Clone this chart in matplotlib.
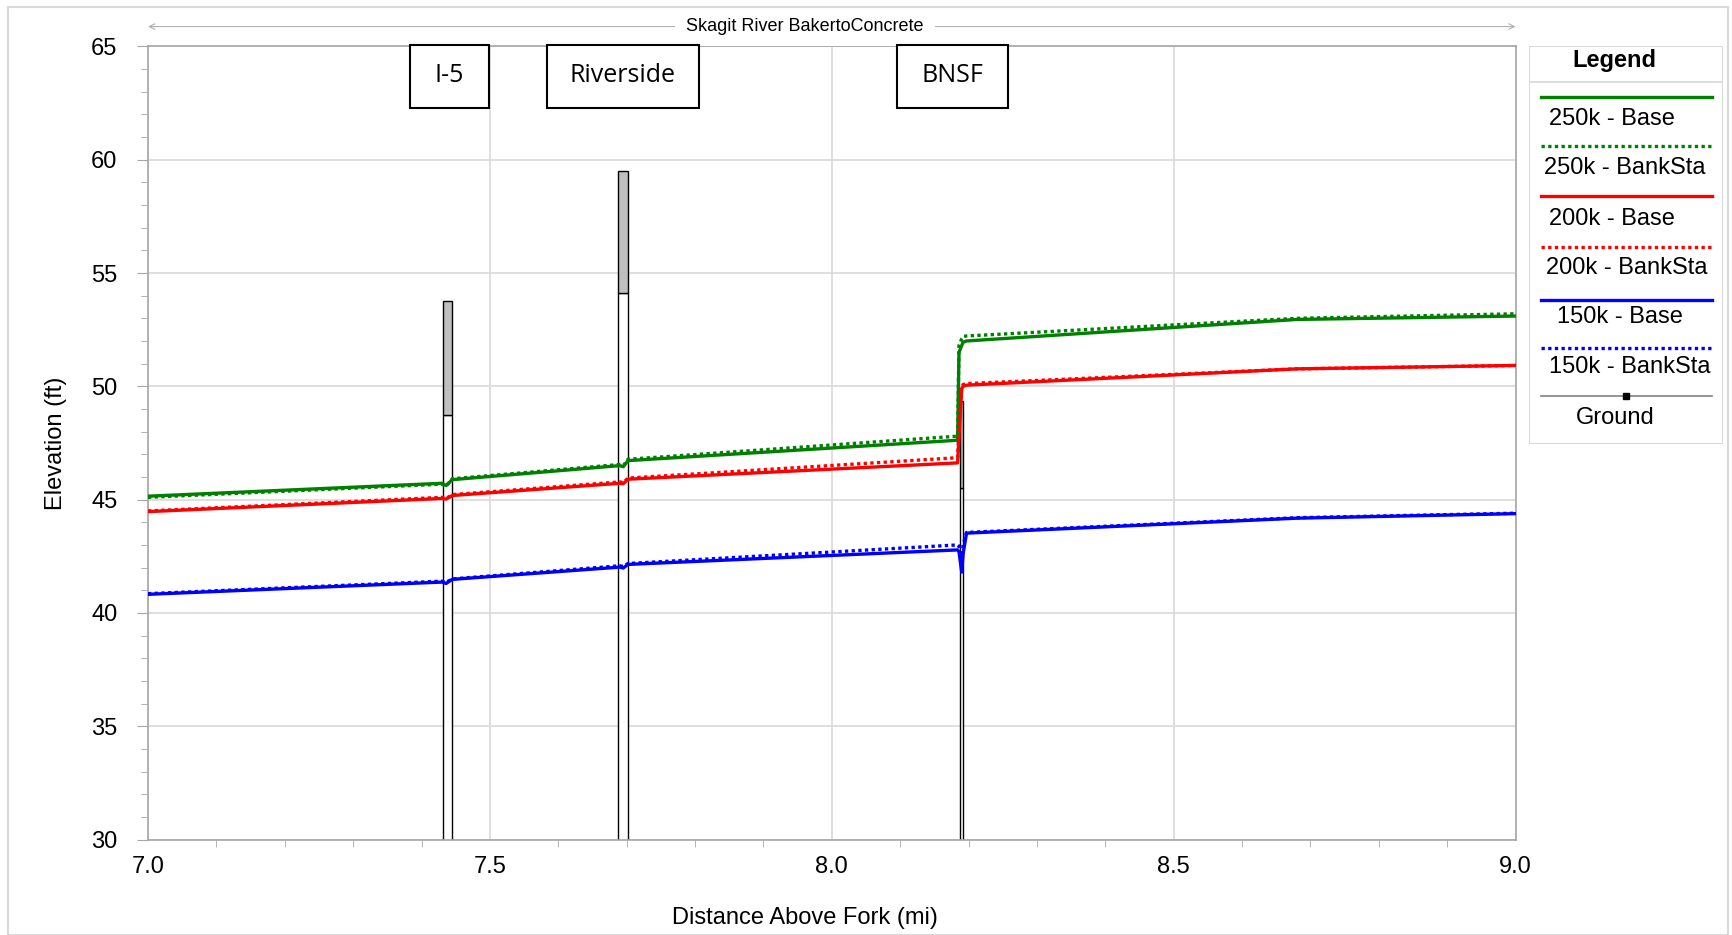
import numpy as np
import matplotlib
matplotlib.use("Agg")
import matplotlib.pyplot as plt
from matplotlib.patches import Rectangle

plt.rcParams['font.family'] = ['Liberation Sans', 'DejaVu Sans']

GRID_COLOR = "#d9d9d9"
SPINE_COLOR = "#a6a6a6"

# river stations (mi) where the profiles change slope
stations = [7.0, 7.43, 7.436, 7.445, 7.69, 7.695, 7.702, 8.184, 8.186, 8.19, 8.192, 8.197, 8.68, 9.0]

wse_250k_base = [45.15, 45.72, 45.62, 45.88, 46.50, 46.45, 46.72, 47.62, 51.5, 51.8, 51.95, 52.0, 52.95, 53.1]
wse_250k_bank = [45.10, 45.68, 45.60, 45.92, 46.55, 46.50, 46.78, 47.80, 51.8, 52.1, 52.2, 52.22, 53.0, 53.2]
wse_200k_base = [44.47, 45.05, 45.02, 45.18, 45.72, 45.70, 45.90, 46.62, 47.8, 49.9, 50.0, 50.05, 50.77, 50.92]
wse_200k_bank = [44.50, 45.10, 45.05, 45.22, 45.78, 45.75, 45.95, 46.85, 48.2, 50.0, 50.08, 50.12, 50.77, 50.92]
wse_150k_base = [40.82, 41.36, 41.30, 41.48, 42.02, 41.98, 42.14, 42.78, 42.7, 41.8, 42.6, 43.52, 44.18, 44.38]
wse_150k_bank = [40.85, 41.40, 41.35, 41.50, 42.08, 42.05, 42.18, 43.00, 42.95, 42.2, 43.0, 43.55, 44.2, 44.4]

series_labels = ["250k - Base", "250k - BankSta", "200k - Base", "200k - BankSta",
                 "150k - Base", "150k - BankSta"]
series_values = [wse_250k_base, wse_250k_bank, wse_200k_base, wse_200k_bank,
                 wse_150k_base, wse_150k_bank]
series_colors = ["#008000", "#008000", "#ff0000", "#ff0000", "#0000ff", "#0000ff"]
series_dotted = [False, True, False, True, False, True]

# bridges: name, upstream/downstream station, high chord, low chord
bridge_names = ["I-5", "Riverside", "BNSF"]
bridge_left = [7.432, 7.688, 8.187]
bridge_right = [7.444, 7.702, 8.192]
bridge_high = [53.76, 59.5, 49.36]
bridge_low = [48.75, 54.1, 45.5]

river_reach = "Skagit River BakertoConcrete"

fig = plt.figure(figsize=(17.32, 9.35), dpi=100)

# outer frame
fig.add_artist(Rectangle((8 / 1732, 0.0), 1720 / 1732, 1 - 7 / 935, transform=fig.transFigure,
                         fill=False, edgecolor="#d9d9d9", lw=1.5))

ax = fig.add_axes([148 / 1732, 95.5 / 935, 1367.6 / 1732, 793.1 / 935])

for i in range(len(bridge_names)):
    w = bridge_right[i] - bridge_left[i]
    ax.add_patch(Rectangle((bridge_left[i], 25), w, bridge_low[i] - 25,
                           facecolor="white", edgecolor="black", lw=1.0, zorder=2))
    ax.add_patch(Rectangle((bridge_left[i], bridge_low[i]), w, bridge_high[i] - bridge_low[i],
                           facecolor="#bfbfbf", edgecolor="black", lw=1.0, zorder=2))

for vals, lab, col, dotted in zip(series_values, series_labels, series_colors, series_dotted):
    if dotted:
        ax.plot(stations, vals, color=col, lw=2.4, ls=(0, (1, 1)), label=lab, zorder=4)
    else:
        ax.plot(stations, vals, color=col, lw=2.4, label=lab, zorder=3)

ax.set_xlim(7.0, 9.0)
ax.set_ylim(30, 65)
ax.set_xticks(np.arange(7.0, 9.01, 0.5))
ax.set_xticklabels(["7.0", "7.5", "8.0", "8.5", "9.0"])
ax.set_xticks(np.arange(7.0, 9.01, 0.1), minor=True)
ax.set_yticks(np.arange(30, 66, 5))
ax.set_yticks(np.arange(30, 66, 1), minor=True)
ax.grid(True, which="major", color=GRID_COLOR, lw=1.2, zorder=0)
ax.set_axisbelow(True)
for s in ax.spines.values():
    s.set_color(SPINE_COLOR)
    s.set_linewidth(1.2)
ax.tick_params(axis="both", which="both", color=SPINE_COLOR, labelsize=17)
ax.tick_params(axis="y", which="major", length=8, pad=14)
ax.tick_params(axis="y", which="minor", length=5)
ax.tick_params(axis="x", which="major", length=0, pad=12)
ax.tick_params(axis="x", which="minor", length=5)

ax.set_xlabel("Distance Above Fork (mi)", fontsize=17)
ax.xaxis.set_label_coords(0.4804, -0.085)
ax.set_ylabel("Elevation (ft)", fontsize=17, labelpad=17)

# reach arrow on top
ax.annotate("", xy=(0.0, 1.025), xytext=(1.0, 1.025), xycoords="axes fraction",
            textcoords="axes fraction",
            arrowprops=dict(arrowstyle="<->", color="#b0b0b0", lw=0.8, shrinkA=0, shrinkB=0),
            annotation_clip=False)
ax.text(0.4804, 1.025, river_reach, transform=ax.transAxes, ha="center", va="center",
        fontsize=13, bbox=dict(facecolor="white", edgecolor="none", pad=8))

# bridge name boxes
box_x0 = [410, 547, 897]
box_x1 = [489, 699, 1008]
for name, x0, x1 in zip(bridge_names, box_x0, box_x1):
    fig.add_artist(Rectangle((x0 / 1732, 1 - 108 / 935), (x1 - x0) / 1732, 63 / 935,
                             transform=fig.transFigure, facecolor="white",
                             edgecolor="black", lw=1.5, zorder=5))
    fig.text((x0 + x1) / 2 / 1732, 1 - 76 / 935, name, ha="center", va="center",
             fontsize=18, family=["Open Sans", "DejaVu Sans"], zorder=6)

# legend panel
lax = fig.add_axes([1529 / 1732, 1 - 444 / 935, 194 / 1732, 398 / 935])
lax.set_xlim(0, 194)
lax.set_ylim(398, 0)
lax.axis("off")
lax.add_patch(Rectangle((0, 0), 194, 398, fill=False, edgecolor="#d9d9d9", lw=1.5))
lax.text(85, 14, "Legend", ha="center", va="center", fontsize=17, fontweight="bold")
lax.plot([0, 194], [35.5, 35.5], color="#d9d9d9", lw=1.2)

line_y = [50.7, 100, 149.7, 200.7, 254, 302.3]
label_y = [73, 122, 173, 222, 270.7, 320.7]
label_x = [82.6, 95.9, 82.6, 98.1, 91.4, 100.3]
for lab, col, dotted, ly, tx, ty in zip(series_labels, series_colors, series_dotted,
                                        line_y, label_x, label_y):
    ls = (0, (1, 1)) if dotted else "-"
    lax.plot([12, 183], [ly, ly], color=col, lw=2.4, ls=ls)
    lax.text(tx, ty, lab, ha="center", va="center", fontsize=17)

lax.plot([12, 183], [349.7, 349.7], color="#808080", lw=1.2)
lax.plot([97], [349.7], marker="s", color="black", ms=4)
lax.text(86, 371.7, "Ground", ha="center", va="center", fontsize=17)

fig.savefig("out.png", dpi=100)
